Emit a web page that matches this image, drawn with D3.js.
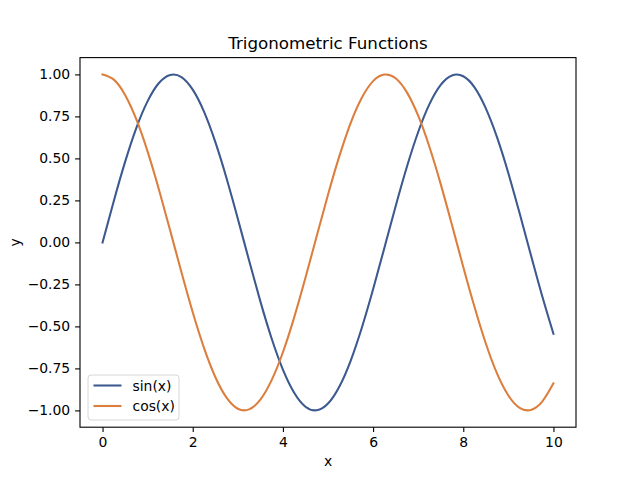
<!DOCTYPE html>
<html>
<head>
<meta charset="utf-8">
<script src="https://cdn.jsdelivr.net/npm/d3@7"></script>
<style>
  body { margin: 0; background: #fff; }
  svg { display: block; font-family: "DejaVu Sans", sans-serif; }
  .tick text { font-size: 13.9px; fill: #000; }
</style>
</head>
<body>
<div id="chart"></div>
<script>
// values, x step 0.25
var xValues = [0, 0.25, 0.5, 0.75, 1, 1.25, 1.5, 1.75, 2, 2.25, 2.5, 2.75, 3, 3.25, 3.5, 3.75,
  4, 4.25, 4.5, 4.75, 5, 5.25, 5.5, 5.75, 6, 6.25, 6.5, 6.75, 7, 7.25, 7.5, 7.75,
  8, 8.25, 8.5, 8.75, 9, 9.25, 9.5, 9.75, 10];
var sinValues = [0, 0.247, 0.479, 0.682, 0.841, 0.949, 0.997, 0.984, 0.909, 0.778, 0.598, 0.382,
  0.141, -0.108, -0.351, -0.572, -0.757, -0.895, -0.978, -0.999, -0.959, -0.859, -0.706,
  -0.508, -0.279, -0.033, 0.215, 0.450, 0.657, 0.823, 0.938, 0.994, 0.989, 0.923, 0.798,
  0.625, 0.412, 0.173, -0.075, -0.319, -0.544];
var cosValues = [1, 0.969, 0.878, 0.732, 0.540, 0.315, 0.071, -0.178, -0.416, -0.628, -0.801,
  -0.924, -0.990, -0.994, -0.936, -0.820, -0.654, -0.446, -0.211, 0.038, 0.284, 0.512, 0.709,
  0.861, 0.960, 0.999, 0.977, 0.893, 0.754, 0.568, 0.347, 0.103, -0.146, -0.385, -0.602,
  -0.781, -0.911, -0.985, -0.997, -0.948, -0.839];
var seriesNames = ["sin(x)", "cos(x)"];
var xTicks = [0, 2, 4, 6, 8, 10];
var yTicks = [-1, -0.75, -0.5, -0.25, 0, 0.25, 0.5, 0.75, 1];

var width = 640, height = 480;
// note: "top" is taken by window.top, so use a margin object
var plot = { left: 80, right: 576, top: 57.6, bottom: 427.2 };
var colors = ["#3c5a8f", "#dc7f3e"];

var svg = d3.select("#chart").append("svg")
    .attr("width", width)
    .attr("height", height);

var x = d3.scaleLinear().domain([-0.5, 10.5]).range([plot.left, plot.right]);
var y = d3.scaleLinear().domain([-1.1, 1.1]).range([plot.bottom, plot.top]);

var fmtMinus = function (s) { return s.replace("-", "\u2212"); };

// axes
var xAxis = svg.append("g")
    .attr("transform", "translate(0," + plot.bottom + ")")
    .call(d3.axisBottom(x).tickValues(xTicks).tickSize(4.9).tickPadding(4.9)
        .tickFormat(function (d) { return fmtMinus(d3.format("d")(d)); }));
var yAxis = svg.append("g")
    .attr("transform", "translate(" + plot.left + ",0)")
    .call(d3.axisLeft(y).tickValues(yTicks).tickSize(4.9).tickPadding(4.9)
        .tickFormat(function (d) { return fmtMinus(d3.format(".2f")(d)); }));
[xAxis, yAxis].forEach(function (a) {
    a.select(".domain").remove();
    a.selectAll(".tick line").attr("stroke", "#000").attr("stroke-width", 1.1);
    a.attr("font-family", null).attr("font-size", null);
});

// series
var series = [sinValues, cosValues];
var line = d3.line()
    .x(function (d, i) { return x(xValues[i]); })
    .y(function (d) { return y(d); })
    .curve(d3.curveNatural);

svg.append("defs").append("clipPath").attr("id", "clip")
  .append("rect").attr("x", plot.left).attr("y", plot.top)
  .attr("width", plot.right - plot.left).attr("height", plot.bottom - plot.top);

svg.append("g").attr("clip-path", "url(#clip)")
  .selectAll("path.series")
  .data(series)
  .enter().append("path")
    .attr("class", "series")
    .attr("d", line)
    .attr("fill", "none")
    .attr("stroke", function (d, i) { return colors[i]; })
    .attr("stroke-width", 2.08)
    .attr("stroke-linejoin", "round")
    .attr("stroke-linecap", "square");

// frame
svg.append("rect")
    .attr("x", plot.left).attr("y", plot.top)
    .attr("width", plot.right - plot.left).attr("height", plot.bottom - plot.top)
    .attr("fill", "none").attr("stroke", "#000").attr("stroke-width", 1.1);

// title + labels
svg.append("text")
    .attr("x", (plot.left + plot.right) / 2).attr("y", 49)
    .attr("text-anchor", "middle")
    .attr("font-size", 16.7)
    .text("Trigonometric Functions");
svg.append("text")
    .attr("x", (plot.left + plot.right) / 2).attr("y", 466)
    .attr("text-anchor", "middle")
    .attr("font-size", 13.9)
    .text("x");
svg.append("text")
    .attr("transform", "translate(20," + (plot.top + plot.bottom) / 2 + ") rotate(-90)")
    .attr("text-anchor", "middle")
    .attr("font-size", 13.9)
    .text("y");

// legend
var lg = svg.append("g").attr("transform", "translate(88,375)");
lg.append("rect")
    .attr("width", 91).attr("height", 45)
    .attr("rx", 3)
    .attr("fill", "#fff").attr("fill-opacity", 0.8)
    .attr("stroke", "#d6d6d6").attr("stroke-width", 1);
seriesNames.forEach(function (name, i) {
    var yy = 10.5 + i * 20.5;
    lg.append("line")
        .attr("x1", 5.5).attr("x2", 33.5)
        .attr("y1", yy).attr("y2", yy)
        .attr("stroke", colors[i]).attr("stroke-width", 2.08);
    lg.append("text")
        .attr("x", 44.5).attr("y", yy + 5)
        .attr("font-size", 13.9)
        .text(name);
});
</script>
</body>
</html>
